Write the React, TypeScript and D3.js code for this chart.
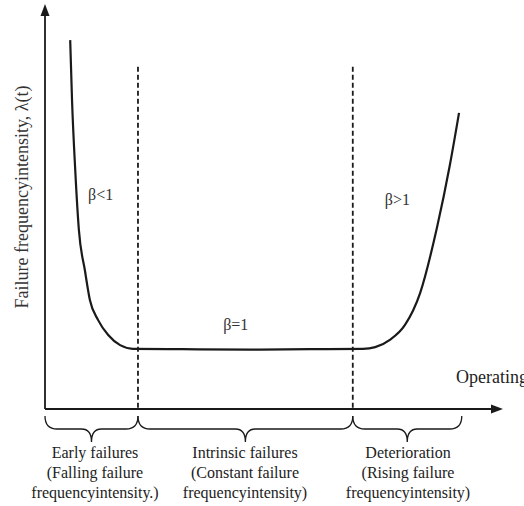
import React from 'react';
import * as d3 from 'd3';

const W = 524, H = 506;

// bathtub curve (t in % of time axis, lambda in % of height)
const curveT = [5.5, 5.9, 6.6, 7.4, 8.7, 9.8, 11.6, 13.8, 16.4, 19.2, 30, 45, 58, 69.4, 72.1, 75.3, 78.6, 81.9, 85.6, 88.4, 90.4];
const curveL = [91.3, 76.5, 59.2, 44.3, 34.4, 27.0, 22.0, 18.3, 15.8, 14.9, 14.8, 14.7, 14.8, 14.9, 15.3, 17.1, 20.8, 28.7, 45.0, 60.4, 73.3];

const phaseBounds = [0, 20.3, 67.2, 91];
const dividerTop = 84.7;
const phaseTitles = ['Early failures', 'Intrinsic failures', 'Deterioration'];
const phaseSub = ['(Falling failure', '(Constant failure', '(Rising failure'];
const phaseSub2 = ['frequencyintensity.)', 'frequencyintensity)', 'frequencyintensity)'];
const phaseCx = [95, 245, 408];

const betaLabels = ['β<1', 'β=1', 'β>1'];
const betaT = [9.4, 38.9, 74.2];
const betaL = [51.7, 19.6, 50.5];

const yTitle = 'Failure frequencyintensity, λ(t)';
const xTitle = 'Operating time';

const x = d3.scaleLinear().domain([0, 100]).range([45, 503]);
const y = d3.scaleLinear().domain([0, 100]).range([409, 5]);

const font = '"Liberation Serif", "Times New Roman", serif';
const ink = '#1a1a1a';

function brace(x1: number, x2: number, y0: number) {
  const m = (x1 + x2) / 2;
  const h = y0 + 13, tip = y0 + 26;
  return `M${x1},${y0} C${x1},${y0 + 10} ${x1 + 5},${h} ${x1 + 12},${h} L${m - 10},${h} ` +
    `C${m - 4},${h} ${m},${h + 3} ${m},${tip} C${m},${h + 3} ${m + 4},${h} ${m + 10},${h} ` +
    `L${x2 - 12},${h} C${x2 - 5},${h} ${x2},${y0 + 10} ${x2},${y0}`;
}

export default function App() {
  const pts = curveT.map((t, i) => [t, curveL[i]] as [number, number]);
  const line = d3.line<[number, number]>()
    .x(d => x(d[0]))
    .y(d => y(d[1]))
    .curve(d3.curveMonotoneX);

  const x0 = x(0), y0 = y(0);

  return (
    <svg width={W} height={H} style={{ position: 'absolute', left: 0, top: 0, background: '#fff' }}
         fontFamily={font}>
      {/* axes */}
      <line x1={x0} y1={y0} x2={x0} y2={14} stroke={ink} strokeWidth={1.8} />
      <path d={`M${x0},${4} L${x0 - 4.5},${16} L${x0 + 4.5},${16} Z`} fill={ink} />
      <line x1={x0} y1={y0} x2={x(100) - 10} y2={y0} stroke={ink} strokeWidth={1.8} />
      <path d={`M${x(100)},${y0} L${x(100) - 12},${y0 - 4.5} L${x(100) - 12},${y0 + 4.5} Z`} fill={ink} />

      {/* phase dividers */}
      {phaseBounds.slice(1, 3).map((b, i) => (
        <line key={i} x1={x(b)} x2={x(b)} y1={y(dividerTop)} y2={y0}
              stroke={ink} strokeWidth={1.8} strokeDasharray="5,3" />
      ))}

      {/* curve */}
      <path d={line(pts) || ''} fill="none" stroke={ink} strokeWidth={2.2} />

      {betaLabels.map((b, i) => (
        <text key={b} x={x(betaT[i])} y={y(betaL[i])} fontSize={16} fill="#333">{b}</text>
      ))}

      <text x={456} y={383} fontSize={18} fill="#222">{xTitle}</text>
      <text transform="translate(28,197) rotate(-90)" textAnchor="middle" fontSize={18} fill="#333">{yTitle}</text>

      {/* braces + phase captions */}
      {phaseTitles.map((t, i) => (
        <g key={t}>
          <path d={brace(x(phaseBounds[i]), x(phaseBounds[i + 1]), 416)} fill="none" stroke={ink} strokeWidth={1.3} />
          <text x={phaseCx[i]} y={458} textAnchor="middle" fontSize={16} fill="#222">{t}</text>
          <text x={phaseCx[i]} y={478} textAnchor="middle" fontSize={16} fill="#222">{phaseSub[i]}</text>
          <text x={phaseCx[i]} y={498} textAnchor="middle" fontSize={16} fill="#222">{phaseSub2[i]}</text>
        </g>
      ))}
    </svg>
  );
}
